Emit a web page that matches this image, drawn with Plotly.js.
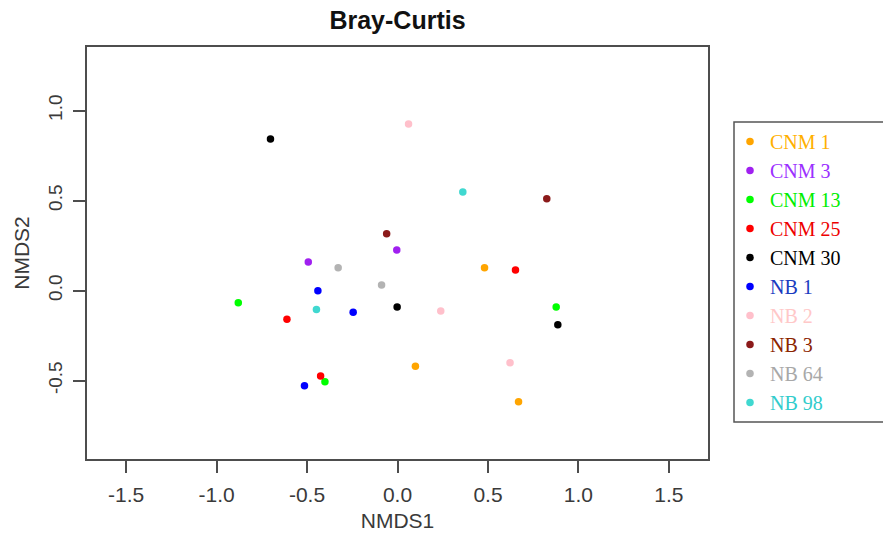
<!DOCTYPE html>
<html>
<head>
<meta charset="utf-8">
<script src="https://cdn.plot.ly/plotly-3.0.1.min.js"></script>
<style>html,body{margin:0;padding:0;background:#fff;}#chart{width:883px;height:539px;}</style>
</head>
<body>
<div id="chart"></div>
<script>
// Sample groups (legend order)
const groups = ["CNM 1", "CNM 3", "CNM 13", "CNM 25", "CNM 30", "NB 1", "NB 2", "NB 3", "NB 64", "NB 98"];
// NMDS1 coordinates per group
const nmds1 = [
  [0.481, 0.099, 0.669],
  [-0.004, -0.493],
  [-0.880, -0.401, 0.877],
  [-0.611, -0.425, 0.652],
  [-0.702, -0.002, 0.886],
  [-0.440, -0.245, -0.514],
  [0.061, 0.239, 0.622],
  [-0.060, 0.825],
  [-0.328, -0.088],
  [0.361, -0.448]
];
// NMDS2 coordinates per group
const nmds2 = [
  [0.127, -0.421, -0.618],
  [0.225, 0.158],
  [-0.068, -0.507, -0.092],
  [-0.160, -0.475, 0.114],
  [0.842, -0.092, -0.190],
  [-0.001, -0.121, -0.529],
  [0.925, -0.114, -0.401],
  [0.316, 0.510],
  [0.127, 0.031],
  [0.547, -0.106]
];
const pointColors = ["#FFA500", "#A020F0", "#00FF00", "#FF0000", "#000000", "#0000FF", "#FFC0CB", "#8B1A1A", "#B3B3B3", "#40D8D0"];
const legendTextColors = ["#FFB000", "#9B30FF", "#00EE00", "#EE0000", "#000000", "#1A3CC0", "#FFC8C8", "#8B2500", "#A8A8A8", "#33CCCC"];
const xTicks = [-1.5, -1.0, -0.5, 0.0, 0.5, 1.0, 1.5];
const xTickText = ["-1.5", "-1.0", "-0.5", "0.0", "0.5", "1.0", "1.5"];
const yTicks = [-0.5, 0.0, 0.5, 1.0];
const yTickText = ["-0.5", "0.0", "0.5", "1.0"];

const traces = groups.map((g, i) => ({
  type: "scatter",
  mode: "markers",
  x: nmds1[i],
  y: nmds2[i],
  name: '<span style="color:' + legendTextColors[i] + '">' + g + '</span>',
  marker: {color: pointColors[i], size: 7.5, line: {width: 0}},
  hoverinfo: "x+y"
}));

const W = 883, H = 539;
const L = 87, R = 708, T = 47, B = 459;
const axisCol = "#4d4d4d";
const tickFont = {family: "Liberation Sans, Arial, sans-serif", size: 19, color: "#3a3a3a"};

const layout = {
  width: W, height: H,
  margin: {l: L, r: W - R, t: T, b: H - B, pad: 0},
  paper_bgcolor: "#ffffff",
  plot_bgcolor: "#ffffff",
  showlegend: true,
  title: {
    text: "Bray-Curtis",
    font: {family: "Liberation Sans, Arial, sans-serif", size: 25, color: "#111111", weight: "bold"},
    x: 0.5, xref: "paper", xanchor: "center",
    y: 1 - 20 / H, yref: "container", yanchor: "middle"
  },
  xaxis: {
    range: [-1.716, 1.716],
    tickmode: "array", tickvals: xTicks, ticktext: xTickText,
    showgrid: false, zeroline: false,
    showline: true, mirror: true, linecolor: axisCol, linewidth: 2,
    ticks: "outside", ticklen: 12, tickwidth: 2, tickcolor: axisCol,
    tickfont: Object.assign({}, tickFont, {size: 21}),
    ticklabelstandoff: 4,
    title: {text: "NMDS1", font: {family: "Liberation Sans, Arial, sans-serif", size: 21, color: "#3a3a3a"}, standoff: 8},
    automargin: false
  },
  yaxis: {
    range: [-0.936, 1.353],
    tickmode: "array", tickvals: yTicks, ticktext: yTickText,
    tickangle: -90,
    showgrid: false, zeroline: false,
    showline: true, mirror: true, linecolor: axisCol, linewidth: 2,
    ticks: "outside", ticklen: 12, tickwidth: 2, tickcolor: axisCol,
    tickfont: tickFont,
    ticklabelstandoff: 3,
    title: {text: "NMDS2", font: {family: "Liberation Sans, Arial, sans-serif", size: 21, color: "#3a3a3a"}, standoff: 10},
    automargin: false
  },
  legend: {
    x: (730 - L) / (R - L), xref: "paper", xanchor: "left",
    y: (B - 122) / (B - T), yref: "paper", yanchor: "top",
    bgcolor: "rgba(0,0,0,0)",
    borderwidth: 0,
    font: {family: "Liberation Serif, Times New Roman, serif", size: 20, color: "#000"},
    itemsizing: "trace",
    tracegroupgap: 0
  },
  shapes: [{
    type: "rect", xref: "paper", yref: "paper",
    x0: (734 - L) / (R - L), x1: (900 - L) / (R - L),
    y0: (B - 422) / (B - T), y1: (B - 122) / (B - T),
    line: {color: "#555555", width: 1.5}, fillcolor: "rgba(0,0,0,0)"
  }]
};

Plotly.newPlot("chart", traces, layout, {displayModeBar: false, staticPlot: true});
</script>
</body>
</html>
